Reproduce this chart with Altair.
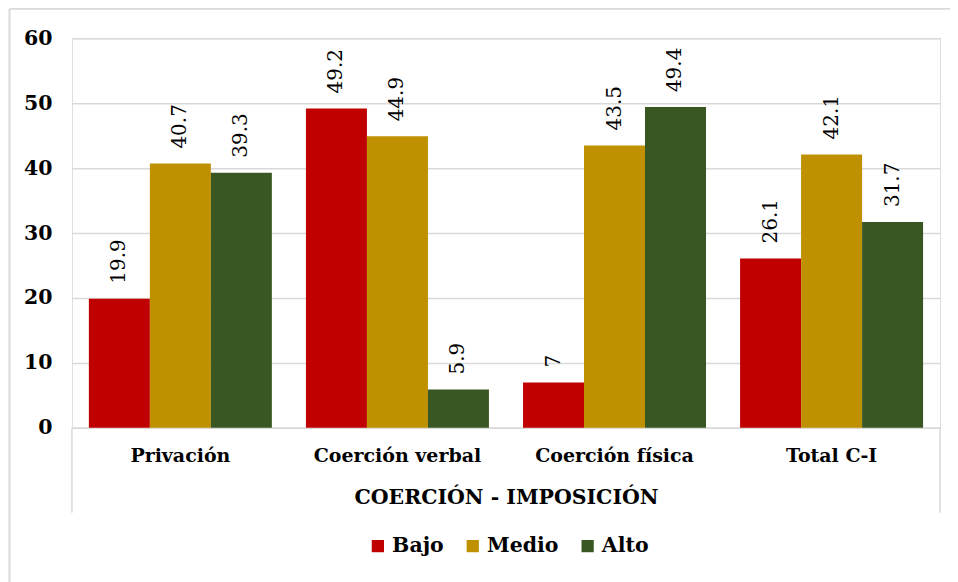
import altair as alt
import pandas as pd

categories = ["Privación", "Coerción verbal", "Coerción física", "Total C-I"]
series = ["Bajo", "Medio", "Alto"]
bajo = [19.9, 49.2, 7.0, 26.1]
medio = [40.7, 44.9, 43.5, 42.1]
alto = [39.3, 5.9, 49.4, 31.7]
colors = ["#C00000", "#BF9000", "#385723"]

rows = []
for i, c in enumerate(categories):
    for s, vals in zip(series, [bajo, medio, alto]):
        v = vals[i]
        rows.append({"cat": c, "nivel": s, "valor": v, "label": f"{v:g}"})
df = pd.DataFrame(rows)

W, H = 869, 390
FONT = "DejaVu Serif"
FS = 20.5

base = alt.Chart(df).encode(
    x=alt.X("cat:N", sort=categories, title="COERCIÓN - IMPOSICIÓN",
            scale=alt.Scale(paddingInner=0.157, paddingOuter=0.078),
            axis=alt.Axis(labelAngle=0, labelFont=FONT, labelFontSize=19, labelFontWeight="bold",
                          labelColor="#000000", labelPadding=19, labelLimit=0, ticks=False,
                          domainColor="#D9D9D9", domainWidth=1.5,
                          titleFont=FONT, titleFontSize=FS, titleFontWeight="bold",
                          titleColor="#000000", titlePadding=22)),
    xOffset=alt.XOffset("nivel:N", sort=series, scale=alt.Scale(paddingInner=0, paddingOuter=0)),
)

bars = base.mark_bar().encode(
    y=alt.Y("valor:Q", title=None, scale=alt.Scale(domain=[0, 60], nice=False),
            axis=alt.Axis(values=[0, 10, 20, 30, 40, 50, 60], labelFont=FONT, labelFontSize=FS,
                          labelFontWeight="bold", labelColor="#000000", labelPadding=20,
                          ticks=False, domain=False, gridColor="#D9D9D9", gridWidth=1.5)),
    color=alt.Color("nivel:N", sort=series, scale=alt.Scale(domain=series, range=colors),
                    legend=alt.Legend(title=None, orient="none", direction="horizontal",
                                      legendX=296, legendY=498,
                                      symbolType="square", symbolSize=150, symbolStrokeWidth=0,
                                      labelFont=FONT, labelFontSize=FS, labelFontWeight="bold",
                                      labelColor="#000000", columnPadding=18, labelOffset=4)),
)

texts = base.mark_text(angle=270, align="left", baseline="middle", dx=15,
                       font=FONT, fontSize=20, color="#000000").encode(
    y=alt.Y("valor:Q"),
    text=alt.Text("label:N"),
)

one = alt.Chart(pd.DataFrame({"a": [0]}))
box_left = one.mark_rule(color="#D9D9D9", strokeWidth=1.5).encode(
    x=alt.value(0), y=alt.value(H), y2=alt.value(H + 85))
box_right = one.mark_rule(color="#D9D9D9", strokeWidth=1.5).encode(
    x=alt.value(W), y=alt.value(H), y2=alt.value(H + 85))
frame_top = one.mark_rule(color="#D9D9D9", strokeWidth=2).encode(
    x=alt.value(-62.5), x2=alt.value(W + 40), y=alt.value(-29.5))
frame_left = one.mark_rule(color="#D9D9D9", strokeWidth=2).encode(
    x=alt.value(-62.5), y=alt.value(-29.5), y2=alt.value(H + 170))

chart = alt.layer(bars, texts, box_left, box_right, frame_top, frame_left).properties(
    width=W, height=H,
    autosize=alt.AutoSizeParams(type="none"),
    padding={"left": 64, "top": 30, "right": 10, "bottom": 154},
).configure_view(stroke=None).configure(background="#FFFFFF")

chart.save("out.html", embed_options={"renderer": "svg", "actions": False})
